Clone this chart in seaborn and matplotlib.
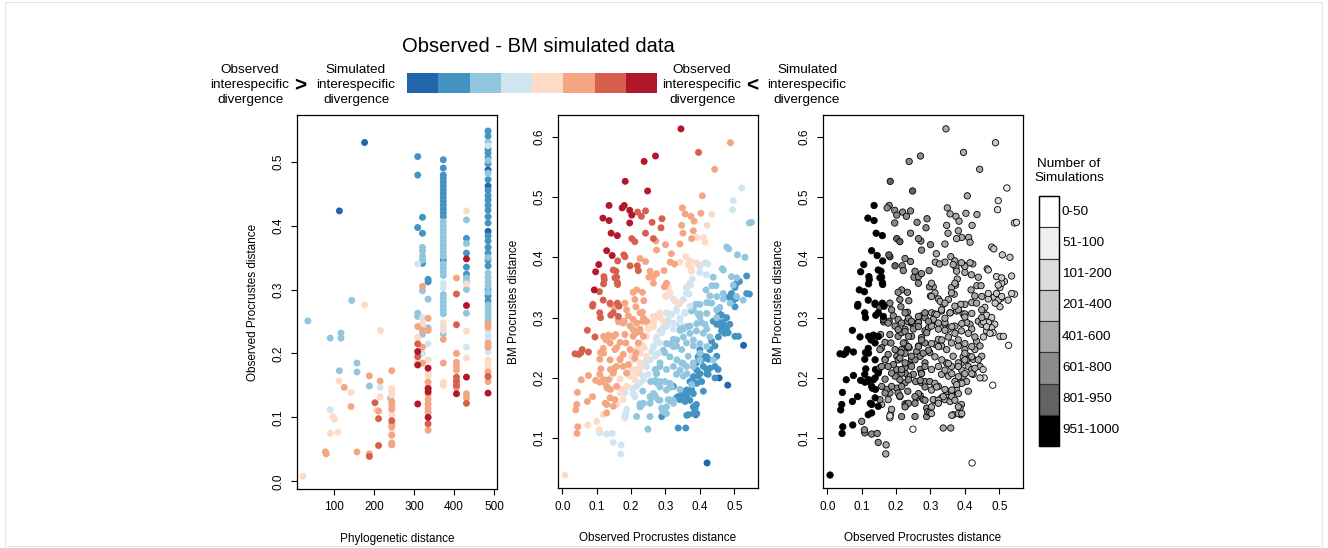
import matplotlib
matplotlib.use("Agg")
import matplotlib.pyplot as plt
from matplotlib.patches import Rectangle
import pandas as pd
import seaborn as sns

# ---------------- colours / legend text ----------------
DIFF_COLORS = ["#2166AC", "#4393C3", "#92C5DE", "#D1E5F0",
               "#FDDBC7", "#F4A582", "#D6604D", "#B2182B"]
NSIM_COLORS = ["#FFFFFF", "#F0F0F0", "#DCDCDC", "#C8C8C8",
               "#AAAAAA", "#8C8C8C", "#646464", "#000000"]
NSIM_LABELS = ["0-50", "51-100", "101-200", "201-400",
               "401-600", "601-800", "801-950", "951-1000"]
TITLE = "Observed - BM simulated data"
LEFT_TXT = "Observed\ninterespecific\ndivergence"
SIM_TXT = "Simulated\ninterespecific\ndivergence"

P1_XTICKS = [100, 200, 300, 400, 500]
P1_YTICKS = [0.0, 0.1, 0.2, 0.3, 0.4, 0.5]
P2_XTICKS = [0.0, 0.1, 0.2, 0.3, 0.4, 0.5]
P2_YTICKS = [0.1, 0.2, 0.3, 0.4, 0.5, 0.6]

# ---------------- panel 1: (phylogenetic distance, observed distance) per colour class ----------------
p1_c0 = [(176, 0.530), (113, 0.423), (485, 0.487), (485, 0.462), (485, 0.391)]
p1_c1 = [(309, 0.508), (309, 0.479), (309, 0.397), (321, 0.413), (321, 0.388), (321, 0.341), (335, 0.316), (335, 0.312),
         (373, 0.503), (373, 0.490), (373, 0.479), (373, 0.474), (373, 0.468), (373, 0.462), (373, 0.456), (373, 0.450),
         (373, 0.444), (373, 0.438), (373, 0.432), (373, 0.426), (373, 0.420), (373, 0.414), (373, 0.346),
         (431, 0.380), (431, 0.357), (431, 0.335), (431, 0.324),
         (485, 0.548), (485, 0.540), (485, 0.520), (485, 0.514), (485, 0.506), (485, 0.497), (485, 0.472), (485, 0.455),
         (485, 0.447), (485, 0.440), (485, 0.432), (485, 0.424), (485, 0.414), (485, 0.404), (485, 0.384), (485, 0.376),
         (485, 0.366), (485, 0.357), (485, 0.346), (485, 0.337), (485, 0.300), (485, 0.290), (485, 0.282)]
p1_c2 = [(34, 0.251), (90, 0.224), (117, 0.232), (117, 0.224), (144, 0.283), (113, 0.173), (157, 0.185), (157, 0.171),
         (188, 0.149), (241, 0.130),
         (309, 0.263), (309, 0.258), (321, 0.366), (321, 0.360), (321, 0.352), (321, 0.346), (321, 0.298), (321, 0.230),
         (335, 0.285), (335, 0.240),
         (373, 0.406), (373, 0.400), (373, 0.394), (373, 0.388), (373, 0.382), (373, 0.376), (373, 0.370), (373, 0.364),
         (373, 0.358), (373, 0.352), (373, 0.340), (373, 0.334), (373, 0.328), (373, 0.322), (373, 0.292), (373, 0.286),
         (373, 0.280), (373, 0.274), (373, 0.268), (373, 0.262), (373, 0.231),
         (431, 0.409), (431, 0.372), (431, 0.318), (431, 0.313), (431, 0.300), (431, 0.263),
         (485, 0.530), (485, 0.502), (485, 0.482), (485, 0.350), (485, 0.326), (485, 0.319), (485, 0.311), (485, 0.305),
         (485, 0.296), (485, 0.276), (485, 0.270), (485, 0.264), (485, 0.258), (485, 0.252)]
p1_c3 = [(90, 0.112), (215, 0.147), (309, 0.340), (321, 0.256), (321, 0.242), (321, 0.200), (335, 0.215),
         (373, 0.310), (373, 0.303), (373, 0.242), (431, 0.210),
         (485, 0.236), (485, 0.228), (485, 0.222), (485, 0.203), (485, 0.525)]
p1_c4 = [(22, 0.008), (176, 0.276), (216, 0.236), (97, 0.101), (101, 0.097), (90, 0.075), (109, 0.077), (112, 0.157),
         (142, 0.139), (206, 0.111), (215, 0.132),
         (244, 0.145), (244, 0.140), (244, 0.135), (244, 0.105), (244, 0.076),
         (309, 0.225), (309, 0.187), (321, 0.247), (335, 0.190), (335, 0.170), (335, 0.165),
         (373, 0.248), (373, 0.236), (373, 0.155), (373, 0.150),
         (431, 0.423), (431, 0.309), (431, 0.235), (431, 0.193),
         (485, 0.190), (485, 0.184), (485, 0.178)]
p1_c5 = [(78, 0.046), (80, 0.043), (125, 0.147), (142, 0.117), (157, 0.046), (188, 0.165), (188, 0.043), (215, 0.157),
         (211, 0.110),
         (244, 0.173), (244, 0.125), (244, 0.120), (244, 0.113), (244, 0.090), (244, 0.085), (244, 0.072), (244, 0.060),
         (244, 0.057),
         (309, 0.242), (321, 0.305), (321, 0.236), (321, 0.210), (321, 0.185), (335, 0.255), (335, 0.236), (335, 0.155),
         (335, 0.147), (335, 0.136), (335, 0.128), (335, 0.121), (335, 0.114), (335, 0.108), (335, 0.080),
         (373, 0.222), (373, 0.185),
         (406, 0.318), (406, 0.200), (406, 0.186), (406, 0.180), (406, 0.174), (406, 0.155), (406, 0.146),
         (431, 0.137), (431, 0.131),
         (485, 0.246), (485, 0.241), (485, 0.216), (485, 0.210), (485, 0.171), (485, 0.156)]
p1_c6 = [(188, 0.039), (202, 0.123), (211, 0.098), (211, 0.056), (244, 0.095),
         (309, 0.215), (309, 0.195), (335, 0.090),
         (406, 0.293), (406, 0.245), (406, 0.163), (406, 0.157), (406, 0.150),
         (431, 0.122), (485, 0.164)]
p1_c7 = [(309, 0.203), (309, 0.182), (309, 0.121), (335, 0.177), (335, 0.145), (335, 0.140), (335, 0.100),
         (406, 0.137), (431, 0.348), (431, 0.275), (431, 0.163), (485, 0.138)]

# ---------------- panels 2/3: (observed, BM simulated, nsim class) per colour class ----------------
c0 = [(0.527, 0.254, 1), (0.456, 0.200, 2), (0.481, 0.188, 0), (0.388, 0.139, 4), (0.421, 0.059, 0)]
c1 = [(0.536, 0.369, 3), (0.515, 0.360, 3), (0.502, 0.350, 3), (0.505, 0.332, 3), (0.544, 0.339, 2), (0.485, 0.334, 3),
      (0.456, 0.307, 3), (0.463, 0.304, 3), (0.439, 0.294, 4), (0.449, 0.289, 4), (0.478, 0.300, 3), (0.487, 0.289, 3),
      (0.323, 0.186, 4), (0.332, 0.167, 4), (0.342, 0.164, 4), (0.352, 0.172, 4), (0.347, 0.178, 4), (0.361, 0.175, 4),
      (0.376, 0.181, 4), (0.357, 0.161, 4), (0.337, 0.117, 4), (0.359, 0.117, 4), (0.366, 0.139, 3), (0.390, 0.156, 4),
      (0.386, 0.150, 4), (0.410, 0.178, 4), (0.405, 0.194, 4), (0.386, 0.192, 4), (0.395, 0.203, 4), (0.410, 0.219, 4),
      (0.420, 0.214, 4), (0.424, 0.206, 4), (0.390, 0.225, 4), (0.400, 0.247, 4), (0.410, 0.236, 4), (0.424, 0.231, 4),
      (0.429, 0.247, 4), (0.434, 0.261, 4), (0.444, 0.253, 4), (0.444, 0.219, 4), (0.444, 0.200, 3), (0.453, 0.214, 3),
      (0.449, 0.236, 4), (0.468, 0.292, 3), (0.478, 0.283, 3), (0.463, 0.278, 3), (0.482, 0.275, 3), (0.502, 0.269, 3),
      (0.512, 0.269, 3),
      (0.507, 0.357, 3), (0.492, 0.340, 3), (0.497, 0.329, 3), (0.502, 0.318, 3), (0.536, 0.340, 3), (0.454, 0.293, 3),
      (0.463, 0.285, 3), (0.473, 0.274, 3), (0.454, 0.268, 3), (0.395, 0.235, 4), (0.405, 0.230, 4), (0.420, 0.235, 4),
      (0.391, 0.213, 4), (0.400, 0.207, 4), (0.420, 0.207, 4), (0.429, 0.216, 4), (0.381, 0.202, 4), (0.371, 0.194, 4),
      (0.391, 0.191, 4), (0.362, 0.180, 4), (0.337, 0.169, 4), (0.362, 0.169, 4), (0.381, 0.174, 4), (0.371, 0.163, 4),
      (0.381, 0.152, 4), (0.313, 0.163, 4), (0.294, 0.141, 5), (0.289, 0.136, 5), (0.381, 0.141, 4), (0.362, 0.138, 4),
      (0.391, 0.141, 4)]
c2 = [(0.478, 0.417, 3), (0.484, 0.414, 3), (0.509, 0.404, 3), (0.531, 0.400, 3), (0.465, 0.381, 3), (0.492, 0.368, 3),
      (0.507, 0.366, 3), (0.439, 0.367, 4), (0.435, 0.353, 4), (0.418, 0.346, 4), (0.447, 0.353, 4), (0.468, 0.331, 3),
      (0.458, 0.317, 3), (0.429, 0.336, 4), (0.420, 0.325, 4), (0.400, 0.322, 4), (0.388, 0.322, 4), (0.376, 0.311, 4),
      (0.357, 0.308, 4), (0.395, 0.306, 4), (0.415, 0.289, 4), (0.449, 0.300, 4), (0.342, 0.289, 4), (0.544, 0.457, 2),
      (0.550, 0.458, 2),
      (0.249, 0.115, 0), (0.226, 0.157, 5), (0.231, 0.156, 5), (0.234, 0.178, 5), (0.260, 0.167, 5), (0.270, 0.171, 5),
      (0.279, 0.164, 5), (0.289, 0.150, 5), (0.292, 0.144, 5), (0.298, 0.143, 5), (0.257, 0.194, 5), (0.274, 0.192, 5),
      (0.284, 0.194, 5), (0.298, 0.194, 5), (0.313, 0.186, 4), (0.308, 0.164, 4), (0.323, 0.163, 4), (0.270, 0.214, 5),
      (0.284, 0.225, 5), (0.303, 0.214, 4), (0.323, 0.219, 4), (0.332, 0.206, 4), (0.352, 0.203, 4), (0.298, 0.242, 5),
      (0.313, 0.256, 4), (0.332, 0.253, 4), (0.347, 0.247, 4), (0.361, 0.258, 4), (0.381, 0.253, 4), (0.366, 0.236, 4),
      (0.347, 0.225, 4), (0.361, 0.219, 4), (0.381, 0.225, 4), (0.376, 0.189, 4), (0.342, 0.181, 4), (0.352, 0.281, 4),
      (0.371, 0.286, 4), (0.390, 0.278, 4), (0.405, 0.292, 4), (0.400, 0.306, 4), (0.420, 0.281, 4), (0.274, 0.208, 5),
      (0.323, 0.264, 4),
      (0.468, 0.379, 3), (0.497, 0.354, 3), (0.468, 0.340, 3), (0.449, 0.335, 4), (0.434, 0.324, 4), (0.420, 0.307, 4),
      (0.400, 0.301, 4), (0.381, 0.313, 4), (0.391, 0.290, 4), (0.362, 0.285, 4), (0.342, 0.279, 4), (0.352, 0.268, 4),
      (0.333, 0.263, 4), (0.323, 0.252, 4), (0.303, 0.257, 4), (0.294, 0.246, 5), (0.313, 0.235, 4), (0.333, 0.230, 4),
      (0.352, 0.224, 4), (0.342, 0.213, 4), (0.362, 0.207, 4), (0.381, 0.219, 4), (0.400, 0.230, 4), (0.400, 0.257, 4),
      (0.381, 0.263, 4), (0.371, 0.274, 4), (0.410, 0.274, 4), (0.429, 0.268, 4), (0.420, 0.252, 4), (0.400, 0.241, 4),
      (0.439, 0.230, 4), (0.284, 0.219, 5), (0.274, 0.207, 5), (0.270, 0.196, 5), (0.284, 0.185, 5), (0.265, 0.174, 5),
      (0.303, 0.180, 4), (0.313, 0.191, 4), (0.318, 0.185, 4), (0.255, 0.169, 5), (0.236, 0.158, 5), (0.226, 0.152, 5),
      (0.255, 0.158, 5), (0.284, 0.163, 5), (0.303, 0.152, 4), (0.323, 0.158, 4), (0.216, 0.136, 5), (0.255, 0.136, 5),
      (0.303, 0.141, 4), (0.507, 0.335, 3), (0.526, 0.329, 3), (0.488, 0.324, 3), (0.449, 0.313, 4)]
c3 = [(0.522, 0.515, 1), (0.497, 0.494, 2), (0.495, 0.479, 2), (0.398, 0.387, 4), (0.423, 0.389, 4), (0.400, 0.375, 4),
      (0.378, 0.364, 4), (0.373, 0.354, 4), (0.361, 0.350, 4), (0.369, 0.339, 4), (0.323, 0.331, 4), (0.337, 0.322, 4),
      (0.303, 0.308, 4), (0.274, 0.303, 5),
      (0.109, 0.109, 5), (0.129, 0.107, 5), (0.145, 0.108, 5), (0.148, 0.093, 5), (0.171, 0.089, 4), (0.170, 0.074, 4),
      (0.184, 0.140, 2), (0.182, 0.134, 2), (0.182, 0.175, 5), (0.211, 0.169, 5), (0.202, 0.183, 5), (0.226, 0.192, 5),
      (0.236, 0.222, 5), (0.245, 0.231, 5), (0.260, 0.244, 5), (0.265, 0.253, 5), (0.274, 0.267, 5), (0.284, 0.278, 5),
      (0.294, 0.283, 5), (0.303, 0.292, 4), (0.313, 0.306, 4), (0.332, 0.311, 4), (0.250, 0.206, 5), (0.236, 0.203, 5),
      (0.270, 0.236, 5), (0.284, 0.258, 5), (0.323, 0.281, 4), (0.342, 0.292, 4),
      (0.400, 0.385, 4), (0.419, 0.371, 4), (0.415, 0.391, 4), (0.371, 0.357, 4), (0.361, 0.341, 4), (0.352, 0.330, 4),
      (0.332, 0.313, 4), (0.318, 0.305, 4), (0.308, 0.297, 4), (0.323, 0.291, 4), (0.303, 0.286, 4), (0.289, 0.275, 5),
      (0.274, 0.263, 5), (0.265, 0.252, 5), (0.279, 0.241, 5), (0.255, 0.230, 5), (0.245, 0.219, 5), (0.226, 0.208, 5),
      (0.236, 0.197, 5), (0.216, 0.186, 5), (0.206, 0.175, 5), (0.211, 0.170, 5), (0.187, 0.148, 4), (0.182, 0.137, 2),
      (0.342, 0.299, 4), (0.357, 0.308, 4), (0.371, 0.319, 4)]
c4 = [(0.435, 0.471, 4), (0.421, 0.453, 4), (0.411, 0.433, 4), (0.391, 0.433, 4), (0.415, 0.425, 4), (0.359, 0.401, 4),
      (0.371, 0.394, 4), (0.342, 0.392, 4), (0.374, 0.383, 4), (0.308, 0.351, 4), (0.300, 0.336, 4), (0.243, 0.291, 5),
      (0.265, 0.293, 5),
      (0.008, 0.039, 7), (0.100, 0.128, 5), (0.074, 0.122, 7), (0.119, 0.139, 7), (0.108, 0.114, 5), (0.139, 0.200, 7),
      (0.168, 0.198, 5), (0.173, 0.181, 5), (0.202, 0.214, 5), (0.216, 0.208, 5), (0.226, 0.217, 5), (0.211, 0.197, 5),
      (0.224, 0.247, 5), (0.238, 0.250, 5), (0.245, 0.269, 5), (0.250, 0.281, 5), (0.245, 0.292, 5), (0.265, 0.292, 5),
      (0.284, 0.300, 5), (0.187, 0.186, 5),
      (0.366, 0.388, 4), (0.376, 0.377, 4), (0.390, 0.391, 4), (0.313, 0.341, 4), (0.303, 0.335, 4), (0.328, 0.327, 4),
      (0.342, 0.324, 4), (0.265, 0.302, 5), (0.284, 0.308, 5), (0.294, 0.294, 5), (0.265, 0.285, 5), (0.226, 0.258, 5),
      (0.236, 0.252, 5), (0.216, 0.247, 5), (0.202, 0.236, 5), (0.206, 0.230, 5), (0.226, 0.225, 5), (0.226, 0.241, 5),
      (0.245, 0.236, 5), (0.216, 0.214, 5), (0.197, 0.203, 5), (0.168, 0.175, 5), (0.177, 0.164, 4), (0.158, 0.156, 4)]
c5 = [(0.489, 0.590, 3), (0.443, 0.546, 4), (0.407, 0.502, 4), (0.349, 0.482, 4), (0.357, 0.472, 4), (0.374, 0.468, 4),
      (0.383, 0.460, 4), (0.347, 0.453, 4), (0.351, 0.440, 4), (0.381, 0.444, 4), (0.403, 0.473, 4), (0.272, 0.427, 5),
      (0.300, 0.421, 5), (0.317, 0.406, 4), (0.342, 0.422, 4), (0.376, 0.431, 4), (0.274, 0.412, 5), (0.314, 0.392, 4),
      (0.326, 0.389, 4), (0.242, 0.393, 5), (0.226, 0.398, 5), (0.252, 0.367, 5), (0.265, 0.368, 5), (0.274, 0.373, 5),
      (0.296, 0.378, 5), (0.216, 0.346, 5), (0.206, 0.342, 5), (0.233, 0.342, 5), (0.237, 0.328, 5), (0.297, 0.351, 5),
      (0.214, 0.318, 5), (0.233, 0.309, 5), (0.192, 0.303, 5), (0.180, 0.294, 5), (0.139, 0.322, 7), (0.152, 0.317, 6),
      (0.164, 0.293, 6),
      (0.055, 0.197, 7), (0.044, 0.176, 7), (0.042, 0.156, 7), (0.039, 0.147, 7), (0.045, 0.119, 7), (0.043, 0.108, 7),
      (0.073, 0.161, 7), (0.088, 0.169, 7), (0.076, 0.204, 7), (0.097, 0.196, 7), (0.109, 0.193, 7), (0.116, 0.194, 7),
      (0.134, 0.197, 7), (0.131, 0.183, 7), (0.140, 0.181, 7), (0.153, 0.164, 5), (0.129, 0.156, 7), (0.109, 0.206, 7),
      (0.112, 0.215, 7), (0.140, 0.214, 7), (0.149, 0.211, 7), (0.153, 0.217, 5), (0.109, 0.231, 7), (0.111, 0.242, 7),
      (0.119, 0.249, 7), (0.127, 0.263, 7), (0.134, 0.271, 7), (0.149, 0.269, 7), (0.155, 0.272, 5), (0.168, 0.259, 5),
      (0.185, 0.258, 5), (0.182, 0.272, 5), (0.163, 0.297, 6), (0.177, 0.291, 5), (0.197, 0.286, 5), (0.206, 0.269, 5),
      (0.216, 0.275, 5), (0.226, 0.281, 5), (0.233, 0.294, 5), (0.197, 0.247, 5), (0.214, 0.242, 5), (0.211, 0.233, 5),
      (0.221, 0.258, 5), (0.192, 0.222, 5), (0.168, 0.231, 5), (0.158, 0.250, 5), (0.177, 0.239, 5),
      (0.182, 0.324, 5), (0.187, 0.313, 5), (0.211, 0.330, 5), (0.226, 0.308, 5), (0.236, 0.299, 5), (0.245, 0.294, 5),
      (0.265, 0.357, 5), (0.303, 0.357, 4), (0.255, 0.377, 5), (0.206, 0.297, 5), (0.216, 0.291, 5), (0.206, 0.280, 5),
      (0.226, 0.277, 5), (0.236, 0.269, 5), (0.120, 0.269, 7), (0.129, 0.264, 7), (0.139, 0.258, 7), (0.148, 0.269, 7),
      (0.153, 0.247, 5), (0.120, 0.241, 7), (0.139, 0.230, 7), (0.158, 0.219, 5), (0.168, 0.230, 5), (0.177, 0.219, 5),
      (0.187, 0.208, 5), (0.148, 0.208, 7), (0.120, 0.197, 7), (0.129, 0.186, 7), (0.158, 0.186, 5), (0.139, 0.167, 7),
      (0.125, 0.158, 7), (0.148, 0.153, 7), (0.129, 0.142, 7)]
c6 = [(0.396, 0.574, 4), (0.219, 0.475, 5), (0.242, 0.477, 5), (0.230, 0.468, 5), (0.261, 0.458, 5), (0.290, 0.464, 5),
      (0.287, 0.449, 5), (0.242, 0.440, 5), (0.202, 0.431, 6), (0.211, 0.426, 6), (0.265, 0.431, 5), (0.182, 0.401, 6),
      (0.179, 0.404, 6), (0.161, 0.394, 7), (0.121, 0.368, 7), (0.122, 0.363, 7), (0.120, 0.356, 7), (0.156, 0.377, 7),
      (0.158, 0.367, 7), (0.160, 0.358, 7), (0.161, 0.355, 7), (0.197, 0.386, 6), (0.218, 0.386, 5), (0.221, 0.378, 5),
      (0.108, 0.343, 7), (0.119, 0.329, 7), (0.089, 0.322, 7), (0.088, 0.319, 7), (0.109, 0.308, 7), (0.111, 0.300, 7),
      (0.141, 0.304, 7), (0.160, 0.324, 7), (0.165, 0.319, 7), (0.073, 0.279, 7), (0.095, 0.268, 7), (0.037, 0.240, 7),
      (0.048, 0.239, 7), (0.058, 0.247, 7), (0.054, 0.242, 7), (0.076, 0.243, 7), (0.148, 0.379, 7), (0.153, 0.366, 7),
      (0.139, 0.324, 7), (0.148, 0.308, 7), (0.163, 0.302, 7)]
c7 = [(0.345, 0.613, 4), (0.238, 0.559, 5), (0.271, 0.568, 5), (0.183, 0.526, 6), (0.248, 0.510, 6), (0.136, 0.486, 7),
      (0.118, 0.465, 7), (0.136, 0.461, 7), (0.180, 0.486, 5), (0.174, 0.482, 5), (0.196, 0.478, 5), (0.202, 0.470, 5),
      (0.196, 0.457, 5), (0.142, 0.440, 7), (0.160, 0.436, 7), (0.129, 0.411, 7), (0.145, 0.403, 7), (0.106, 0.388, 7),
      (0.097, 0.376, 7), (0.093, 0.346, 7)]

PANEL1 = [p1_c0, p1_c1, p1_c2, p1_c3, p1_c4, p1_c5, p1_c6, p1_c7]
PANEL23 = [c0, c1, c2, c3, c4, c5, c6, c7]

df1 = pd.DataFrame([(x, y, k) for k, pts in enumerate(PANEL1) for x, y in pts],
                   columns=["phylo", "obs", "diff"])
df2 = pd.DataFrame([(o, b, k, n) for k, pts in enumerate(PANEL23) for o, b, n in pts],
                   columns=["obs", "bm", "diff", "nsim"])

# ---------------- figure ----------------
sns.set_theme(style="ticks")
plt.rcParams["font.family"] = ["Liberation Sans", "DejaVu Sans"]
for key in ("text.color", "axes.labelcolor", "xtick.color", "ytick.color", "axes.edgecolor"):
    plt.rcParams[key] = "black"

W, H = 1328, 548
fig = plt.figure(figsize=(W / 100, H / 100), dpi=100)
fig.patch.set_facecolor("white")

overlay = fig.add_axes([0, 0, 1, 1])
overlay.set_xlim(0, W)
overlay.set_ylim(H, 0)
overlay.axis("off")


def axes_px(l, t, r, b):
    return fig.add_axes([l / W, 1 - b / H, (r - l) / W, (b - t) / H])


ax1 = axes_px(297, 115, 497, 489)
ax2 = axes_px(558, 115, 758, 488)
ax3 = axes_px(823, 115, 1023, 488)

diff_pal = dict(enumerate(DIFF_COLORS))
nsim_pal = dict(enumerate(NSIM_COLORS))

sns.scatterplot(data=df1, x="phylo", y="obs", hue="diff", palette=diff_pal,
                s=25, linewidth=0, legend=False, ax=ax1)
sns.scatterplot(data=df2, x="obs", y="bm", hue="diff", palette=diff_pal,
                s=25, linewidth=0, legend=False, ax=ax2)
sns.scatterplot(data=df2, x="obs", y="bm", hue="nsim", palette=nsim_pal,
                s=21, linewidth=0.6, edgecolor="black", legend=False, ax=ax3)

ax1.set_xlim(6.9, 507.4)
ax1.set_ylim(-0.012, 0.573)
ax1.set_xticks(P1_XTICKS)
ax1.set_yticks(P1_YTICKS)
ax1.set_yticklabels([f"{v:.1f}" for v in P1_YTICKS])
ax1.set_xlabel("Phylogenetic distance", fontsize=8.5, labelpad=14)
ax1.set_ylabel("Observed Procrustes distance", fontsize=8.5, labelpad=10)

for ax in (ax2, ax3):
    ax.set_xlim(-0.0125, 0.569)
    ax.set_ylim(0.0175, 0.636)
    ax.set_xticks(P2_XTICKS)
    ax.set_xticklabels([f"{v:.1f}" for v in P2_XTICKS])
    ax.set_yticks(P2_YTICKS)
    ax.set_yticklabels([f"{v:.1f}" for v in P2_YTICKS])
    ax.set_xlabel("Observed Procrustes distance", fontsize=8.5, labelpad=14)
    ax.set_ylabel("BM Procrustes distance", fontsize=8.5, labelpad=10)

for ax in (ax1, ax2, ax3):
    ax.set_facecolor("white")
    ax.tick_params(direction="out", length=4, width=0.8, labelsize=8.5, pad=5, color="black",
                   labelcolor="black")
    for sp in ax.spines.values():
        sp.set_visible(True)
        sp.set_linewidth(0.9)
        sp.set_color("black")
    for lab in ax.get_yticklabels():
        lab.set_rotation(90)
        lab.set_va("center")

# ---------------- top legend ----------------
overlay.text(538, 47, TITLE, fontsize=14.5, ha="center", va="center")
bx0, bw = 407, 31.25
for i, col in enumerate(DIFF_COLORS):
    overlay.add_patch(Rectangle((bx0 + i * bw, 73), bw, 20, facecolor=col, edgecolor="none"))
overlay.text(250, 85, LEFT_TXT, fontsize=9.7, ha="center", va="center", linespacing=1.3)
overlay.text(300, 86, ">", fontsize=15, ha="center", va="center", fontweight="bold")
overlay.text(356, 85, SIM_TXT, fontsize=9.7, ha="center", va="center", linespacing=1.3)
overlay.text(702, 85, LEFT_TXT, fontsize=9.7, ha="center", va="center", linespacing=1.3)
overlay.text(752, 86, "<", fontsize=15, ha="center", va="center", fontweight="bold")
overlay.text(807, 85, SIM_TXT, fontsize=9.7, ha="center", va="center", linespacing=1.3)

# ---------------- right legend ----------------
overlay.text(1069, 171, "Number of\nSimulations", fontsize=9.7, ha="center", va="center", linespacing=1.3)
ly0, lh = 196, 31.25
for i, (col, lab) in enumerate(zip(NSIM_COLORS, NSIM_LABELS)):
    overlay.add_patch(Rectangle((1039, ly0 + i * lh), 19.5, lh, facecolor=col,
                                edgecolor="#333333", linewidth=0.8))
    overlay.text(1062, ly0 + (i + 0.5) * lh, lab, fontsize=9.7, ha="left", va="center")
overlay.add_patch(Rectangle((1039, ly0), 19.5, 8 * lh, facecolor="none", edgecolor="black", linewidth=1.0))

# faint outer frame
overlay.add_patch(Rectangle((5, 2), 1317, 544, facecolor="none", edgecolor="#e6e6e6", linewidth=0.8))

fig.savefig("out.png", dpi=100, facecolor="white")
